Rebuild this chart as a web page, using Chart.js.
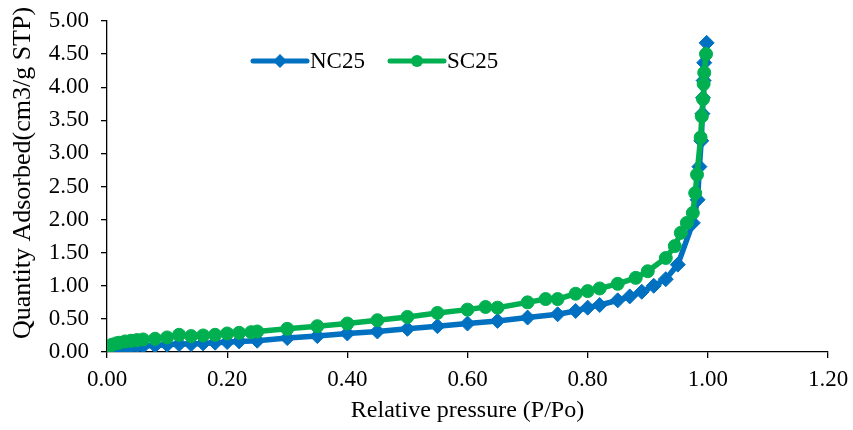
<!DOCTYPE html>
<html>
<head>
<meta charset="utf-8">
<script src="https://cdn.jsdelivr.net/npm/chart.js@4/dist/chart.umd.min.js"></script>
<style>
  html, body { margin: 0; padding: 0; background: #fff; }
</style>
</head>
<body>
<canvas id="isoChart" width="853" height="430"></canvas>
<script>
// NC25 isotherm (blue diamonds)
const ncX = [0.005, 0.01, 0.02, 0.03, 0.04, 0.05, 0.06, 0.08, 0.10, 0.12, 0.14, 0.16, 0.18, 0.20, 0.22, 0.25,
  0.30, 0.35, 0.40, 0.45, 0.50, 0.55, 0.60, 0.65, 0.70, 0.75, 0.78, 0.80, 0.82, 0.85, 0.87, 0.89, 0.91, 0.93, 0.95,
  0.975, 0.983, 0.986, 0.989, 0.991, 0.992, 0.993, 0.994, 0.998];
const ncY = [0.03, 0.05, 0.06, 0.07, 0.08, 0.09, 0.09, 0.10, 0.11, 0.12, 0.12, 0.13, 0.14, 0.15, 0.16, 0.17,
  0.21, 0.24, 0.28, 0.31, 0.35, 0.39, 0.43, 0.47, 0.52, 0.57, 0.62, 0.67, 0.71, 0.78, 0.84, 0.91, 1.00, 1.10, 1.32,
  1.95, 2.30, 2.80, 3.19, 3.60, 3.84, 4.10, 4.37, 4.67];

// SC25 isotherm (green circles)
const scX = [0.003, 0.008, 0.015, 0.02, 0.03, 0.04, 0.05, 0.06, 0.08, 0.10, 0.12, 0.14, 0.16, 0.18, 0.20, 0.22, 0.24, 0.25,
  0.30, 0.35, 0.40, 0.45, 0.50, 0.55, 0.60, 0.63, 0.65, 0.70, 0.73, 0.75, 0.78, 0.80, 0.82, 0.85, 0.88, 0.90, 0.93, 0.945,
  0.955, 0.965, 0.975, 0.979, 0.982, 0.988, 0.99, 0.992, 0.993, 0.994, 0.997];
const scY = [0.08, 0.11, 0.13, 0.14, 0.16, 0.17, 0.18, 0.19, 0.20, 0.22, 0.26, 0.24, 0.25, 0.26, 0.28, 0.29, 0.30, 0.31,
  0.35, 0.39, 0.43, 0.48, 0.53, 0.59, 0.64, 0.68, 0.67, 0.75, 0.80, 0.80, 0.88, 0.92, 0.96, 1.03, 1.12, 1.22, 1.42, 1.60,
  1.80, 1.95, 2.10, 2.40, 2.68, 3.24, 3.56, 3.82, 4.05, 4.22, 4.50];

const seriesNames = ['NC25', 'SC25'];
const seriesColors = ['#0070C0', '#00B050'];

const toPoints = (xs, ys) => xs.map((x, i) => ({ x: x, y: ys[i] }));

const serif = 'Liberation Serif, Times New Roman, serif';

// legend drawn inside the plot (line + marker), and the y title placed like the original
const isoLegend = {
  id: 'isoLegend',
  afterDraw(chart) {
    const ctx = chart.ctx;
    const y = 61;
    const starts = [253, 390];
    ctx.save();
    seriesNames.forEach((name, i) => {
      const x0 = starts[i];
      ctx.strokeStyle = seriesColors[i];
      ctx.lineWidth = 5;
      ctx.lineCap = 'round';
      ctx.beginPath();
      ctx.moveTo(x0, y);
      ctx.lineTo(x0 + 54, y);
      ctx.stroke();
      ctx.fillStyle = seriesColors[i];
      const cx = x0 + 27;
      ctx.beginPath();
      if (i === 0) {
        ctx.moveTo(cx, y - 7);
        ctx.lineTo(cx + 7, y);
        ctx.lineTo(cx, y + 7);
        ctx.lineTo(cx - 7, y);
        ctx.closePath();
      } else {
        ctx.arc(cx, y, 6, 0, Math.PI * 2);
      }
      ctx.fill();
      ctx.fillStyle = '#000';
      ctx.font = '23px ' + serif;
      ctx.textBaseline = 'middle';
      ctx.textAlign = 'left';
      ctx.fillText(name, x0 + 57, y + 1);
    });

    // y axis title
    ctx.translate(23, 173);
    ctx.rotate(-Math.PI / 2);
    ctx.fillStyle = '#000';
    ctx.font = '26px ' + serif;
    ctx.textAlign = 'center';
    ctx.textBaseline = 'middle';
    ctx.fillText('Quantity Adsorbed(cm3/g STP)', 0, 0);
    ctx.restore();
  }
};

new Chart(document.getElementById('isoChart'), {
  type: 'scatter',
  data: {
    datasets: [
      {
        label: seriesNames[0],
        data: toPoints(ncX, ncY),
        showLine: true,
        borderColor: seriesColors[0],
        backgroundColor: seriesColors[0],
        borderWidth: 5.5,
        pointStyle: 'rectRot',
        pointRadius: 7.5,
        pointBorderWidth: 1,
        order: 1
      },
      {
        label: seriesNames[1],
        data: toPoints(scX, scY),
        showLine: true,
        borderColor: seriesColors[1],
        backgroundColor: seriesColors[1],
        borderWidth: 5.5,
        pointStyle: 'circle',
        pointRadius: 6.5,
        pointBorderWidth: 1,
        order: 0
      }
    ]
  },
  options: {
    responsive: false,
    animation: false,
    layout: { padding: { top: 21, right: 25, bottom: 0, left: 0 } },
    plugins: {
      legend: { display: false },
      tooltip: { enabled: false }
    },
    scales: {
      x: {
        type: 'linear',
        min: 0,
        max: 1.2,
        ticks: {
          stepSize: 0.2,
          color: '#000',
          padding: 8,
          font: { family: serif, size: 23 },
          callback: v => v.toFixed(2)
        },
        grid: { drawOnChartArea: false, drawTicks: true, tickLength: 6, color: '#000', lineWidth: 1.3 },
        border: { color: '#000', width: 1.3 },
        title: { display: true, text: 'Relative pressure (P/Po)', color: '#000',
          font: { family: serif, size: 24 }, padding: { top: 0, bottom: 5 } },
        afterFit: s => { s.height = 78; s.paddingLeft = 0; s.paddingRight = 0; }
      },
      y: {
        type: 'linear',
        min: 0,
        max: 5,
        ticks: {
          stepSize: 0.5,
          color: '#000',
          padding: 12,
          font: { family: serif, size: 23 },
          callback: v => v.toFixed(2)
        },
        grid: { drawOnChartArea: false, drawTicks: true, tickLength: 6, color: '#000', lineWidth: 1.3 },
        border: { color: '#000', width: 1.3 },
        title: { display: false },
        afterFit: s => { s.width = 107; s.paddingTop = 0; s.paddingBottom = 0; }
      }
    }
  },
  plugins: [isoLegend]
});
</script>
</body>
</html>
